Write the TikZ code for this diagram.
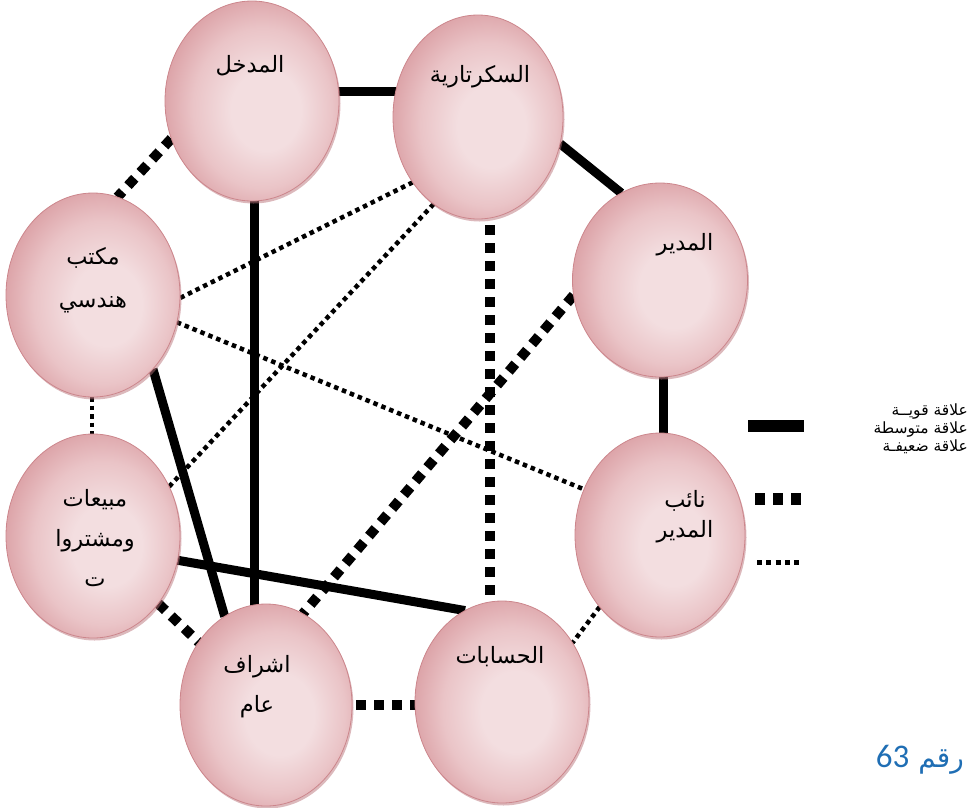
\documentclass[tikz,border=0pt]{standalone}
\usepackage{fontspec}
\usetikzlibrary{shapes.geometric,backgrounds,shadows}
\TeXXeTstate=1
\newfontfamily\arabicfont[Script=Arabic]{DejaVu Sans}
\newfontfamily\numfont{Carlito}
\definecolor{pinkL}{RGB}{243,222,224}
\definecolor{pinkM}{RGB}{234,196,199}
\definecolor{pinkD}{RGB}{218,158,163}
\definecolor{pinkB}{RGB}{204,134,140}
\definecolor{pinkS}{RGB}{185,115,122}
\definecolor{numblue}{RGB}{31,110,180}
\pgfdeclareradialshading{pinkball}{\pgfpoint{5bp}{-3bp}}{color(0bp)=(pinkL); color(10bp)=(pinkL); color(20bp)=(pinkM); color(29bp)=(pinkD); color(50bp)=(pinkD)}
\begin{document}
\begin{tikzpicture}[x=1pt,y=-1pt,
  ell/.style={ellipse, inner sep=0pt, outer sep=0pt, shade, shading=pinkball, draw=pinkB, line width=0.8pt,
    drop shadow={shadow xshift=1.5pt, shadow yshift=-2.5pt, fill=pinkS, opacity=0.5}},
  lbl/.style={font=\arabicfont\fontsize{22.5}{40}\selectfont, align=center, inner sep=0pt, text=black},
  strong/.style={line width=9pt},
  medium/.style={line width=10pt, dash pattern=on 10pt off 8pt},
  weak/.style={line width=4.5pt, dash pattern=on 4.5pt off 4pt},
  legtxt/.style={font=\arabicfont\fontsize{15.5}{17}\selectfont, anchor=east, inner sep=0pt}]
\useasboundingbox (0,0) rectangle (972,807);

% ellipses
\node[ell, minimum width=174pt, minimum height=200pt] (A) at (252,101) {};
\node[ell, minimum width=170pt, minimum height=204pt] (B) at (478,117) {};
\node[ell, minimum width=175pt, minimum height=194pt] (C) at (660,280) {};
\node[ell, minimum width=170pt, minimum height=204pt] (D) at (660,535) {};
\node[ell, minimum width=174pt, minimum height=202pt] (E) at (502,702) {};
\node[ell, minimum width=172pt, minimum height=202pt] (F) at (266,705) {};
\node[ell, minimum width=174pt, minimum height=204pt] (G) at (93,536) {};
\node[ell, minimum width=174pt, minimum height=204pt] (H) at (93,295) {};

% labels
\node[lbl] (At) at (250,66) {\beginR المدخل\endR};
\node[lbl] (Bt) at (480,77) {\beginR السكرتارية\endR};
\node[lbl] (Ct) at (685,245) {\beginR المدير\endR};
\node[lbl, font=\arabicfont\fontsize{22.5}{30}\selectfont] (Dt) at (685,517) {\beginR نائب\endR\\\beginR المدير\endR};
\node[lbl] (Et) at (500,657) {\beginR الحسابات\endR};
\node[lbl] (Ft) at (257,687) {\beginR اشراف\endR\\\beginR عام\endR};
\node[lbl] (Gt) at (95,538) {\beginR مبيعات\endR\\\beginR ومشتروا\endR\\\beginR ت\endR};
\node[lbl, font=\arabicfont\fontsize{22.5}{43}\selectfont] (Ht) at (93,280) {\beginR مكتب\endR\\\beginR هندسي\endR};

% connectors
\begin{pgfonlayer}{background}
% strong
\draw[strong] ([yshift=10pt]A.center) -- ([yshift=10pt]A.center -| B.center);
\draw[strong] ([xshift=2pt]A.center) -- ([xshift=2pt]A.center |- F.center);
\draw[strong] (B.-18) -- (C.114.4);
\draw[strong] ([xshift=3pt]C.center) -- ([xshift=3pt]C.center |- D.center);
\draw[strong] (H.-51) -- (F.115);
\draw[strong] (G.-16.6) -- (E.112);
% medium
\draw[medium] (A.205.4) -- (H.76.6);
\draw[medium] ([xshift=12pt]B.center) -- ([xshift=12pt]B.center |- E.center);
\draw[medium] (C.190) -- (F.68.3);
\draw[medium] (G.-46.4) -- (F.137.6);
\draw[medium] (F.center) -- (F.center -| E.center);
% weak
\draw[weak] (B.225.9) -- (H.-2);
\draw[weak] (B.243.2) -- (G.33.4);
\draw[weak] (H.-18.4) -- (D.149.7);
\draw[weak] ([xshift=-1pt]H.center) -- ([xshift=-1pt]H.center |- G.center);
\draw[weak] (D.230.4) -- (E.40.3);
\end{pgfonlayer}

% legend
\coordinate (ls1) at (748,426); \coordinate (ls2) at (804,426);
\draw[line width=12pt] (ls1) -- (ls2);
\coordinate (lm1) at (755,499); \coordinate (lm2) at (801,499);
\draw[line width=12pt, dash pattern=on 10pt off 8pt] (lm1) -- (lm2);
\coordinate (lw1) at (757,562); \coordinate (lw2) at (799,562);
\draw[line width=5pt, dash pattern=on 5pt off 4.25pt] (lw1) -- (lw2);
\node[legtxt] (lg1) at (968,411) {\beginR علاقة قويــة\endR};
\node[legtxt] (lg2) at (968,429) {\beginR علاقة متوسطة\endR};
\node[legtxt] (lg3) at (968,447) {\beginR علاقة ضعيفـة\endR};

% figure number
\node[anchor=base east, inner sep=0pt, text=numblue] (num) at (964,767)
  {\arabicfont\fontsize{28}{32}\selectfont\beginR رقم \beginL{\numfont\fontsize{33}{36}\selectfont 63}\endL\endR};
\end{tikzpicture}
\end{document}
